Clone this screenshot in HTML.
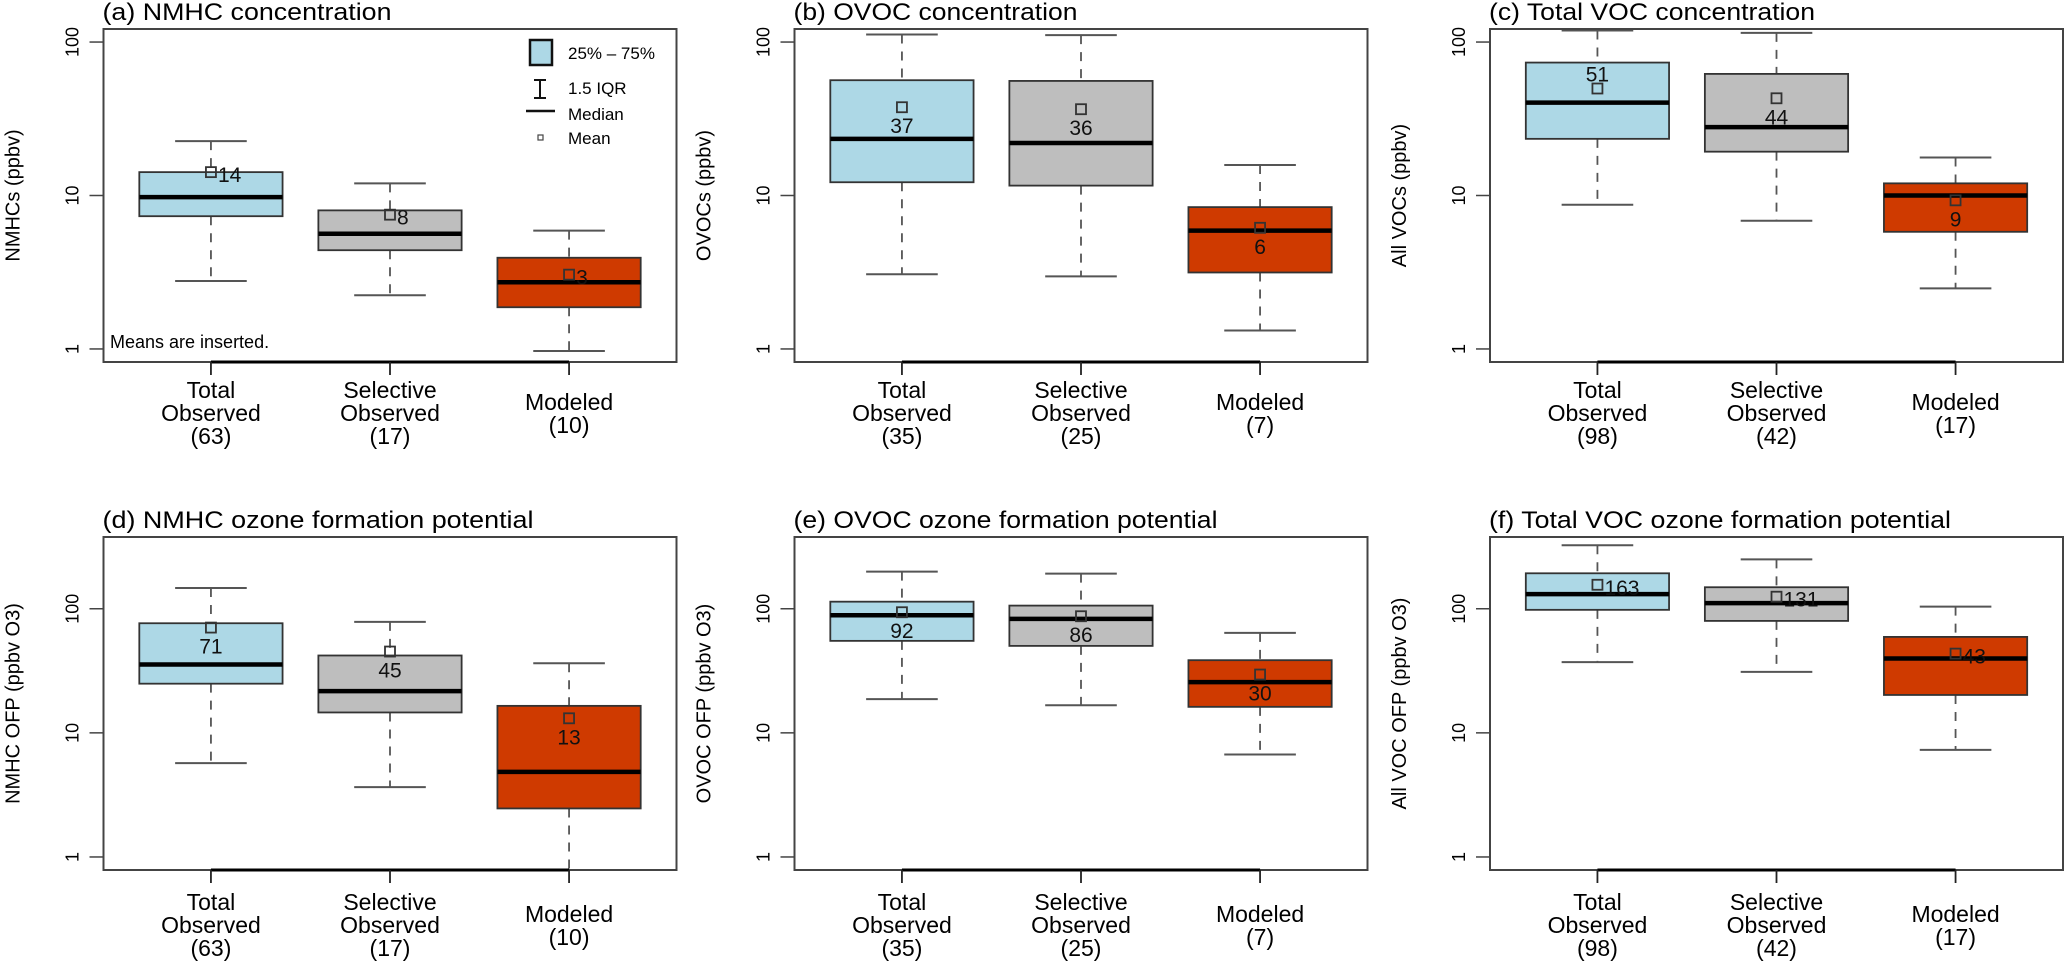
<!DOCTYPE html>
<html><head><meta charset="utf-8"><style>
html,body{margin:0;padding:0;background:#fff;}
svg{display:block;font-family:"Liberation Sans",sans-serif;}
</style></head><body>
<svg id="chart" width="2067" height="966" viewBox="0 0 2067 966" xmlns="http://www.w3.org/2000/svg"></svg>
<script>
// ---- data ----
const panelTitles = ["(a) NMHC concentration","(b) OVOC concentration","(c) Total VOC concentration",
  "(d) NMHC ozone formation potential","(e) OVOC ozone formation potential","(f) Total VOC ozone formation potential"];
const yAxisTitles = ["NMHCs (ppbv)","OVOCs (ppbv)","All VOCs (ppbv)","NMHC OFP (ppbv O3)","OVOC OFP (ppbv O3)","All VOC OFP (ppbv O3)"];
const categories = ["Total|Observed","Selective|Observed","Modeled"];
const counts = [[63,17,10],[35,25,7],[98,42,17],[63,17,10],[35,25,7],[98,42,17]];
const yTicks = [1,10,100];
const yTickLabels = ["1","10","100"];
const whiskerLow = [[2.77,2.24,0.97],[3.07,2.97,1.32],[8.7,6.84,2.48],[5.7,3.65,0.5],[18.7,16.7,6.69],[37.1,31,7.3]];
const q1 = [[7.33,4.4,1.87],[12.2,11.6,3.15],[23.4,19.3,5.8],[24.9,14.6,2.46],[55.1,50.2,16.2],[98,79.8,20.2]];
const median = [[9.75,5.63,2.72],[23.4,22.0,5.9],[40.3,27.9,10],[35.5,21.7,4.85],[88.7,82.8,25.6],[131,111,39.7]];
const q3 = [[14.2,8.0,3.93],[56.4,55.8,8.4],[73.5,62,12.0],[76.4,42,16.5],[114,106,38.5],[193,149,59.3]];
const whiskerHigh = [[22.6,12.0,5.9],[112,111,15.8],[119,114.8,17.7],[147,78.3,36.4],[199,192,63.9],[325,250,104]];
const means = [[14.2,7.5,3.05],[37.6,36.5,6.16],[49.8,43,9.3],[70.5,45.2,13.1],[93.7,87,29.5],[156,125,43.5]];
const meanLabels = [["14","8","3"],["37","36","6"],["51","44","9"],["71","45","13"],["92","86","30"],["163","131","43"]];
const labelPlacement = [["right","right","right"],["below","below","below"],["above","below","below"],["below","below","below"],["below","below","below"],["right","right","right"]];

// ---- layout ----
const NS="http://www.w3.org/2000/svg";
const svg=document.getElementById('chart');
const panelLeft=[103.5,794.5,1490];
const plotW=573;
const rows=[{top:29,bottom:362,logMin:-0.085,logMax:2.085},{top:537,bottom:870,logMin:-0.105,logMax:2.578}];
const titleLen=[289,284,326,431,424,462];
const fills=["#add8e6","#bebebe","#cf3a00"];
function mk(tag,attrs,parent){const e=document.createElementNS(NS,tag);for(const k in attrs)e.setAttribute(k,attrs[k]);(parent||svg).appendChild(e);return e;}

for(let p=0;p<6;p++){
  const r=rows[Math.floor(p/3)], L=panelLeft[p%3], R=L+plotW;
  const y=v=>r.bottom-(Math.log10(v)-r.logMin)/(r.logMax-r.logMin)*(r.bottom-r.top);
  const x=i=>L+(i+1-0.4)/3.2*plotW;
  const g=mk('g',{});
  
  
  const clipId='clip'+p;
  const cp=mk('clipPath',{id:clipId},g); mk('rect',{x:L,y:r.top,width:plotW,height:r.bottom-r.top},cp);
  const t=mk('text',{x:L-1,y:r.top-9,'font-size':24,textLength:titleLen[p],lengthAdjust:'spacingAndGlyphs',fill:'#000'},g);
  t.textContent=panelTitles[p];
  
  
  const yt=mk('text',{x:0,y:0,'font-size':20,'text-anchor':'middle',transform:`translate(${L-84},${(r.top+r.bottom)/2}) rotate(-90)`},g);
  yt.textContent=yAxisTitles[p];
  
  
  yTicks.forEach((v,k)=>{
    const ty=y(v);
    const tk=mk('line',{x1:L-14,x2:L,y1:ty,y2:ty,stroke:'#444','stroke-width':1.5},g);
    
    
    const tl=mk('text',{x:0,y:0,'font-size':18,'text-anchor':'middle',transform:`translate(${L-25},${ty}) rotate(-90)`},g);
    tl.textContent=yTickLabels[k];
    
    
  });
  const plot=mk('g',{'clip-path':`url(#${clipId})`},g);
  for(let i=0;i<3;i++){
    const cx=x(i), bw=0.8/3.2*plotW, cw=bw/2;
    const grp=mk('g',{},plot);
    
    
    mk('line',{x1:cx,x2:cx,y1:y(whiskerHigh[p][i]),y2:y(q3[p][i]),stroke:'#555','stroke-width':1.8,'stroke-dasharray':'9,8'},grp);
    mk('line',{x1:cx,x2:cx,y1:y(q1[p][i]),y2:y(whiskerLow[p][i]),stroke:'#555','stroke-width':1.8,'stroke-dasharray':'9,8'},grp);
    mk('line',{x1:cx-cw/2,x2:cx+cw/2,y1:y(whiskerHigh[p][i]),y2:y(whiskerHigh[p][i]),stroke:'#555','stroke-width':2},grp);
    mk('line',{x1:cx-cw/2,x2:cx+cw/2,y1:y(whiskerLow[p][i]),y2:y(whiskerLow[p][i]),stroke:'#555','stroke-width':2},grp);
    mk('rect',{x:cx-bw/2,y:y(q3[p][i]),width:bw,height:y(q1[p][i])-y(q3[p][i]),fill:fills[i],stroke:'#333','stroke-width':1.8},grp);
    mk('line',{x1:cx-bw/2,x2:cx+bw/2,y1:y(median[p][i]),y2:y(median[p][i]),stroke:'#000','stroke-width':4.5},grp);
    const my=y(means[p][i]);
    const ms=mk('rect',{x:cx-5,y:my-5,width:10,height:10,fill:'none',stroke:'#333','stroke-width':1.8},grp);
    
    
    const pl=labelPlacement[p][i];
    let lx=cx, ly=my+26, anchor='middle';
    if(pl==='right'){lx=cx+7; ly=my+10; anchor='start';}
    if(pl==='above'){ly=my-7;}
    const ml=mk('text',{x:lx,y:ly,'font-size':21,'text-anchor':anchor,fill:'#111'},grp);
    ml.textContent=meanLabels[p][i];
    
    
  }
  const fr=mk('rect',{x:L,y:r.top,width:plotW,height:r.bottom-r.top,fill:'none',stroke:'#444','stroke-width':2},g);
  
  
  mk('line',{x1:x(0),x2:x(2),y1:r.bottom,y2:r.bottom,stroke:'#000','stroke-width':3},g);
  const labOff = p<3?36:40;
  for(let i=0;i<3;i++){
    const cx=x(i);
    const xt=mk('line',{x1:cx,x2:cx,y1:r.bottom,y2:r.bottom+13,stroke:'#222','stroke-width':1.8},g);
    
    
    const lines=categories[i].split('|').concat(['('+counts[p][i]+')']);
    const start = lines.length===3 ? labOff : labOff+12;
    const tx=mk('text',{x:cx,y:0,'font-size':23,'text-anchor':'middle'},g);
    
    
    lines.forEach((s,k)=>{const ts=mk('tspan',{x:cx,y:r.bottom+start+k*23},tx);ts.textContent=s;});
  }
}
// legend in panel (a)
const lg=mk('g',{});


mk('rect',{x:530,y:40,width:22,height:25,fill:'#add8e6',stroke:'#111','stroke-width':2.5},lg);
mk('line',{x1:540,x2:540,y1:80,y2:98,stroke:'#111','stroke-width':2},lg);
mk('line',{x1:534,x2:546,y1:80,y2:80,stroke:'#111','stroke-width':2},lg);
mk('line',{x1:534,x2:546,y1:98,y2:98,stroke:'#111','stroke-width':2},lg);
mk('line',{x1:526,x2:555,y1:111,y2:111,stroke:'#111','stroke-width':2.5},lg);
mk('rect',{x:538,y:135,width:5,height:5,fill:'none',stroke:'#444','stroke-width':1.2},lg);
[["25% – 75%",59],["1.5 IQR",94],["Median",120],["Mean",144]].forEach(([s,by])=>{
  const e=mk('text',{x:568,y:by,'font-size':17},lg); e.textContent=s;
  
  
});
const note=mk('text',{x:110,y:348,'font-size':18},svg);
note.textContent="Means are inserted.";


</script>
</body></html>
